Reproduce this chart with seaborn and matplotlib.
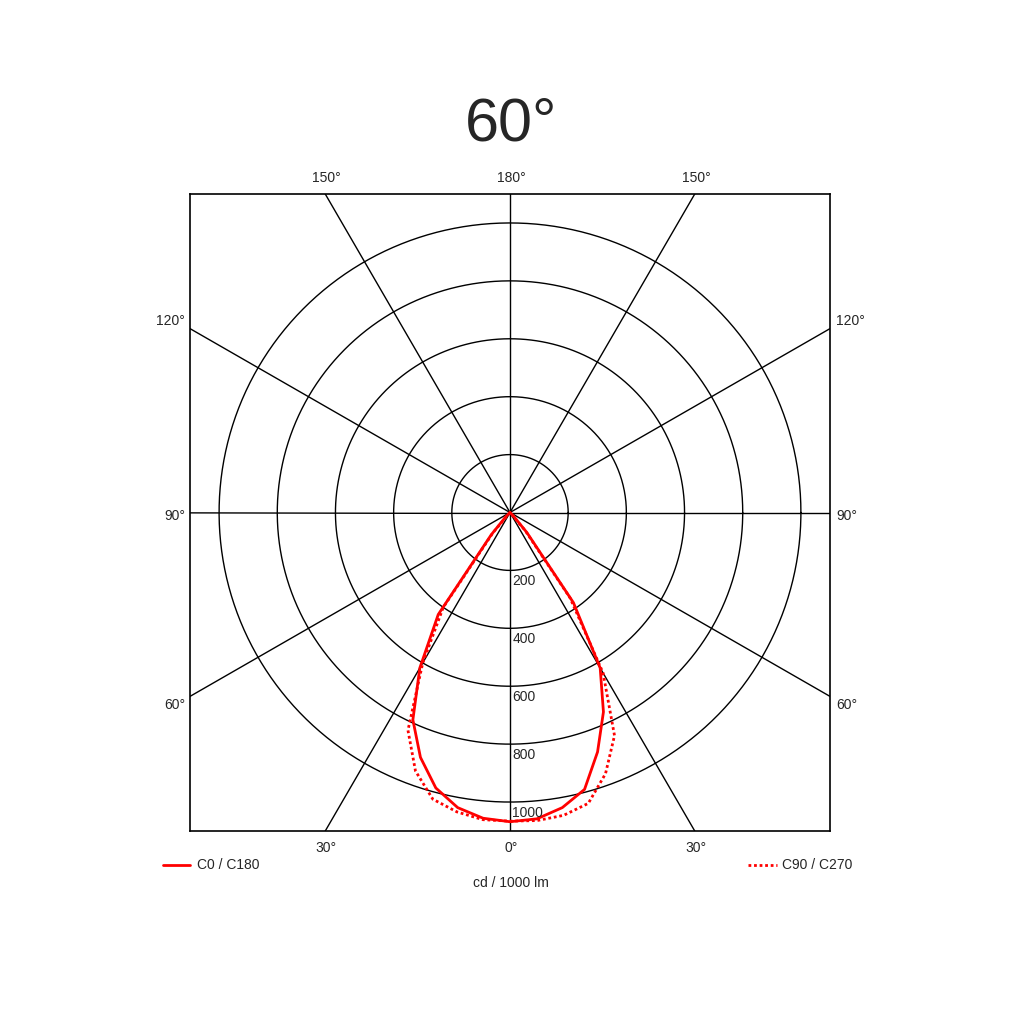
import numpy as np
import pandas as pd
import matplotlib
matplotlib.use("Agg")
import matplotlib.pyplot as plt
import seaborn as sns

sns.set_style("white")
plt.rcParams['font.family'] = ['Liberation Sans', 'DejaVu Sans']

gamma = list(range(-90, 95, 5))
c0_c180 = [0]*9 + [20, 100, 430, 620, 790, 900, 985, 1035, 1060, 1068,
                   1062, 1035, 990, 880, 760, 620, 380, 90, 15] + [0]*9
c90_c270 = [0]*10 + [90, 400, 600, 830, 950, 1025, 1050, 1065, 1066,
                     1068, 1062, 1040, 960, 850, 640, 360, 80] + [0]*10
ring_values = [200, 400, 600, 800, 1000]
title = "60°"

def xy(g, r):
    g = np.radians(np.array(g, float)); r = np.array(r, float)
    return r*np.sin(g), -r*np.cos(g)

fig = plt.figure(figsize=(10.24, 10.24), dpi=100)
ax = fig.add_axes([190/1024, 193/1024, 640/1024, 637/1024])
L = 1100
ax.set_xlim(-L, L); ax.set_ylim(-L, L)
ax.set_xticks([]); ax.set_yticks([])
for s in ax.spines.values():
    s.set_color('black'); s.set_linewidth(1.2)

# rings
t = np.linspace(0, 2*np.pi, 400)
for rv in ring_values:
    ax.plot(rv*np.cos(t), rv*np.sin(t), color='black', lw=1)
    ax.text(8, -rv - 12, str(rv), ha='left', va='top', fontsize=10)
# radial lines
for a in range(0, 360, 30):
    ar = np.radians(a)
    ax.plot([0, 3000*np.sin(ar)], [0, -3000*np.cos(ar)], color='black', lw=1)

x1, y1 = xy(gamma, c0_c180)
x2, y2 = xy(gamma, c90_c270)
d1 = pd.DataFrame({'x': x1, 'y': y1}); d2 = pd.DataFrame({'x': x2, 'y': y2})
sns.lineplot(data=d1, x='x', y='y', sort=False, ax=ax, color='red', lw=2, estimator=None)
sns.lineplot(data=d2, x='x', y='y', sort=False, ax=ax, color='red', lw=2,
             linestyle=(0, (1, 1)), estimator=None)
ax.set_xlabel(''); ax.set_ylabel('')

fs = 10
def ft(px, py, s, ha='center'):
    fig.text(px/1024, 1-py/1024, s, ha=ha, va='center', fontsize=fs)
ft(511, 178, "180°"); ft(326, 178, "150°"); ft(696, 178, "150°")
ft(511, 848, "0°"); ft(326, 848, "30°"); ft(696, 848, "30°")
for py, s in [(321, "120°"), (516, "90°"), (705, "60°")]:
    ft(185, py, s, ha='right'); ft(836, py, s, ha='left')
ft(511, 883, "cd / 1000 lm")
fig.text(511/1024, 1-125/1024, title, ha='center', va='center', fontsize=44)

fig.add_artist(plt.Line2D([163/1024, 190/1024], [1-865/1024]*2, color='red', lw=2))
ft(197, 865, "C0 / C180", ha='left')
fig.add_artist(plt.Line2D([748/1024, 777/1024], [1-865/1024]*2, color='red', lw=2,
                          linestyle=(0, (1, 1))))
ft(782, 865, "C90 / C270", ha='left')

fig.savefig("out.png", dpi=100)
